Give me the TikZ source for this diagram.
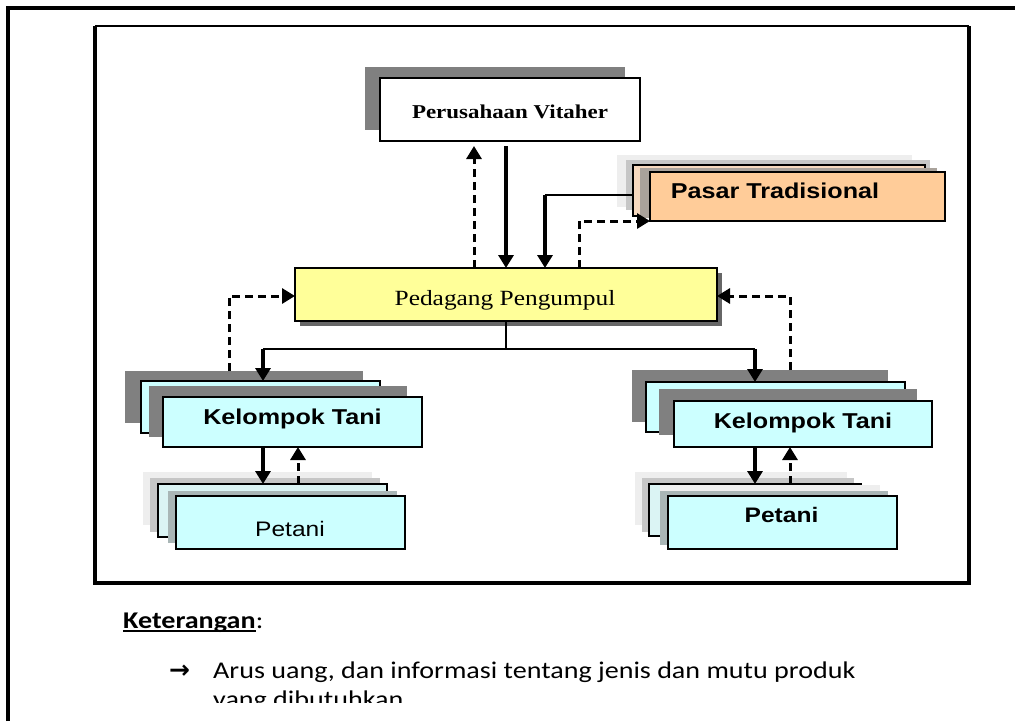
\documentclass[tikz,border=0pt]{standalone}
\usepackage{fontspec}
\usetikzlibrary{arrows.meta,calc}
\newfontfamily\serifF{Liberation Serif}[FakeStretch=1.17]
\newfontfamily\sansF{Liberation Sans}[FakeStretch=1.17]
\newfontfamily\calF{Carlito}[FakeStretch=1.17]
\newfontfamily\djvF{DejaVu Sans}
\definecolor{cyanm}{HTML}{CCFFFF}
\definecolor{palecyan}{HTML}{DBF4F4}
\definecolor{grayteal}{HTML}{A9B6B6}
\definecolor{ltgray}{HTML}{EEEEEE}
\definecolor{midg}{HTML}{C6C6C6}
\definecolor{dkg}{HTML}{808080}
\definecolor{orm}{HTML}{FFCC99}
\definecolor{paleor}{HTML}{F6D9BF}
\definecolor{graybrown}{HTML}{A9A29B}
\definecolor{yel}{HTML}{FFFF99}
\definecolor{shd}{HTML}{666666}
\begin{document}
\begin{tikzpicture}[x=1pt,y=-1pt,
  box/.style={draw=black,line width=1.4pt,anchor=north west,inner sep=0pt,outer sep=0pt},
  solidarrow/.style={line width=3.6pt,-{Triangle[length=13pt,width=15pt]}},
  dasharrow/.style={line width=3pt,dash pattern=on 8pt off 5pt,-{Triangle[length=13pt,width=15pt]}},
  thinline/.style={line width=1.2pt},
  lbl/.style={anchor=base,inner sep=0pt}]
\useasboundingbox (0,0) rectangle (1015,721);
% frames
\draw[line width=3.2pt] (8,721) -- (8,8) -- (1015,8);
\draw[line width=2.2pt] (95,26) -- (969,26);
\draw[line width=3.6pt] (95,26) -- (95,583) -- (969,583) -- (969,26);
% Perusahaan Vitaher
\fill[dkg] (365,67) rectangle (625,130);
\node[box,fill=white,minimum width=260pt,minimum height=63pt] (pv) at (380,78) {};
\node[lbl] (pvt) at (510,118) {\fontsize{19.6}{22}\serifF\bfseries Perusahaan Vitaher};
% Pasar Tradisional
\fill[ltgray] (617,155) rectangle (912,207);
\fill[midg] (626,160) rectangle (930,210);
\node[box,fill=paleor,minimum width=292pt,minimum height=51pt] (ptrb) at (633,165) {};
\fill[graybrown] (640,168) rectangle (937,218);
\node[box,fill=orm,minimum width=295pt,minimum height=49pt] (ptr) at (650,172) {};
\node[lbl] (ptrt) at (775,198) {\fontsize{21.5}{24}\sansF\bfseries Pasar Tradisional};
% Pedagang Pengumpul
\fill[shd] (300,273) rectangle (722,326);
\node[box,fill=yel,minimum width=422pt,minimum height=53pt] (pp) at (295,268) {};
\node[lbl] (ppt) at (505,305) {\fontsize{21.7}{24}\serifF Pedagang Pengumpul};
% Kelompok Tani left
\fill[dkg] (125,371) rectangle (363,423);
\node[box,fill=cyanm,minimum width=239pt,minimum height=52pt] (kt1b) at (141,381) {};
\fill[dkg] (149,386) rectangle (407,437);
\node[box,fill=cyanm,minimum width=259pt,minimum height=50pt] (kt1) at (163,397) {};
\node[lbl] (kt1t) at (292.5,424) {\fontsize{21.5}{24}\sansF\bfseries Kelompok Tani};
% Kelompok Tani right
\fill[dkg] (632,370) rectangle (888,422);
\node[box,fill=cyanm,minimum width=259pt,minimum height=50pt] (kt2b) at (646,382) {};
\fill[dkg] (659,389) rectangle (917,435);
\node[box,fill=cyanm,minimum width=258pt,minimum height=46pt] (kt2) at (674,401) {};
\node[lbl] (kt2t) at (803,428) {\fontsize{21.5}{24}\sansF\bfseries Kelompok Tani};
% Petani left
\fill[ltgray] (143,472) rectangle (372,525);
\fill[midg] (150,478) rectangle (380,532);
\node[box,fill=palecyan,minimum width=229pt,minimum height=53pt] (pt1b) at (158,484) {};
\fill[grayteal] (168,491) rectangle (397,543);
\node[box,fill=cyanm,minimum width=229pt,minimum height=53pt] (pt1) at (176,496) {};
\node[lbl] (pt1t) at (290,536) {\fontsize{21}{24}\sansF Petani};
% Petani right
\fill[ltgray] (635,472) rectangle (847,525);
\fill[midg] (642,478) rectangle (854,532);
\node[box,fill=palecyan,minimum width=212pt,minimum height=52pt] (pt2b) at (649,484) {};
\fill[ltgray] (660,485) rectangle (880,540);
\fill[grayteal] (660,491) rectangle (888,545);
\node[box,fill=cyanm,minimum width=229pt,minimum height=53pt] (pt2) at (668,496) {};
\node[lbl] (pt2t) at (781.5,522) {\fontsize{21}{24}\sansF\bfseries Petani};
% connectors
\coordinate (xa) at (474,0);
\coordinate (xb) at (506,0);
\draw[dasharrow,shorten >=5pt] (pp.north -| xa) -- (pv.south -| xa);
\draw[solidarrow,shorten <=5pt] (pv.south -| xb) -- (pp.north -| xb);
\coordinate (j1) at (545,195);
\draw[thinline] (ptrb.west |- j1) -- (j1);
\draw[solidarrow] (j1) -- (pp.north -| j1);
\coordinate (j2) at (579,221);
\draw[dasharrow] (pp.north -| j2) -- (j2) -- (ptr.west |- j2);
\coordinate (j3) at (229,296);
\coordinate (d1) at (229,371);
\draw[dasharrow] (d1) -- (j3) -- (pp.west |- j3);
\coordinate (j4) at (790,296);
\coordinate (d2) at (790,370);
\draw[dasharrow] (d2) -- (j4) -- (pp.east |- j4);
\coordinate (j5) at (506,349);
\coordinate (j6) at (263,349);
\coordinate (j7) at (755,349);
\draw[thinline] (pp.south -| j5) -- (j5);
\draw[thinline] (j6) -- (j7);
\draw[solidarrow] (j6) -- (kt1b.north -| j6);
\draw[solidarrow] (j7) -- (kt2b.north -| j7);
\coordinate (xk1) at (263,0);
\coordinate (xk2) at (298,0);
\draw[solidarrow] (kt1.south -| xk1) -- (pt1b.north -| xk1);
\draw[dasharrow] (pt1b.north -| xk2) -- (kt1.south -| xk2);
\coordinate (xk3) at (755,0);
\coordinate (xk4) at (790,0);
\draw[solidarrow] (kt2.south -| xk3) -- (pt2b.north -| xk3);
\draw[dasharrow] (pt2b.north -| xk4) -- (kt2.south -| xk4);
% legend
\node[anchor=base west,inner sep=0pt] (ket) at (123,628) {\fontsize{24}{29}\calF\bfseries Keterangan};
\node[anchor=base west,inner sep=0pt] (kcol) at (ket.base east) {\fontsize{24}{29}\calF :};
\draw[line width=1.6pt] ($(ket.base west)+(0,3)$) -- ($(ket.base east)+(0,3)$);
\begin{scope}
\clip (0,0) rectangle (1015,702);
\node[anchor=base west,inner sep=0pt] (arr) at (169,678) {\fontsize{25}{29}\djvF\bfseries →};
\node[anchor=base west,inner sep=0pt] (desc1) at (213,678) {\fontsize{24}{29}\calF Arus uang, dan informasi tentang jenis dan mutu produk};
\node[anchor=base west,inner sep=0pt] (desc2) at (213,707) {\fontsize{24}{29}\calF yang dibutuhkan.};
\end{scope}
\end{tikzpicture}
\end{document}
